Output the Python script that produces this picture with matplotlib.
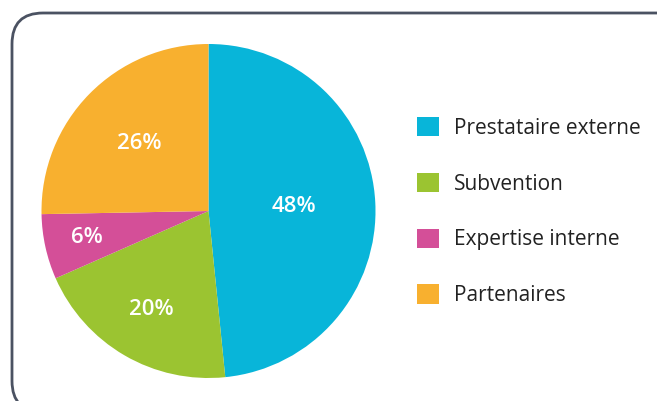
import numpy as np
import matplotlib
matplotlib.use("Agg")
import matplotlib.pyplot as plt
from matplotlib.patches import FancyBboxPatch

# Data
categories = ["Prestataire externe", "Subvention", "Expertise interne", "Partenaires"]
shares = [48.4, 20.0, 6.3, 25.3]          # slice sizes as drawn
pct_labels = ["48%", "20%", "6%", "26%"]  # labels as printed
colors = ["#08b5d9", "#9bc431", "#d44f98", "#f8b02f"]
label_radius = [0.51, 0.68, 0.745, 0.58]

plt.rcParams["font.family"] = ["Open Sans", "DejaVu Sans"]

W, H = 657, 401
fig = plt.figure(figsize=(W / 100, H / 100), dpi=100)
fig.patch.set_facecolor("white")

# Overlay axes in pixel coordinates (origin bottom-left) for the frame
bg = fig.add_axes([0, 0, 1, 1])
bg.set_xlim(0, W)
bg.set_ylim(0, H)
bg.axis("off")
top_px, bottom_px = 13, 412
frame = FancyBboxPatch((12, H - bottom_px), 720, bottom_px - top_px,
                       boxstyle="round,pad=0,rounding_size=31",
                       fill=False, edgecolor="#4b5262", linewidth=2.0)
bg.add_patch(frame)

# Pie axes
cx, cy, r = 208.5, 211, 167
pax = fig.add_axes([(cx - r) / W, (H - cy - r) / H, 2 * r / W, 2 * r / H])
wedges, _ = pax.pie(shares, colors=colors, startangle=90, counterclock=False,
                    radius=1, wedgeprops=dict(linewidth=0))
pax.set_xlim(-1, 1)
pax.set_ylim(-1, 1)
pax.set_aspect("auto")
pax.axis("off")

for w, lab, rr in zip(wedges, pct_labels, label_radius):
    ang = np.deg2rad((w.theta1 + w.theta2) / 2)
    pax.text(rr * np.cos(ang), rr * np.sin(ang), lab, color="white",
             fontsize=16, fontweight="semibold", ha="center", va="center")

fs = 15
leg = fig.legend(wedges, categories, loc="upper left",
                 bbox_to_anchor=(417 / W, 1 - 117 / H), frameon=False,
                 fontsize=fs, handlelength=1.06, handleheight=1.06,
                 handletextpad=0.72, labelspacing=1.63, borderpad=0,
                 borderaxespad=0)
for t in leg.get_texts():
    t.set_color("#222222")

fig.savefig("out.png", dpi=100)
